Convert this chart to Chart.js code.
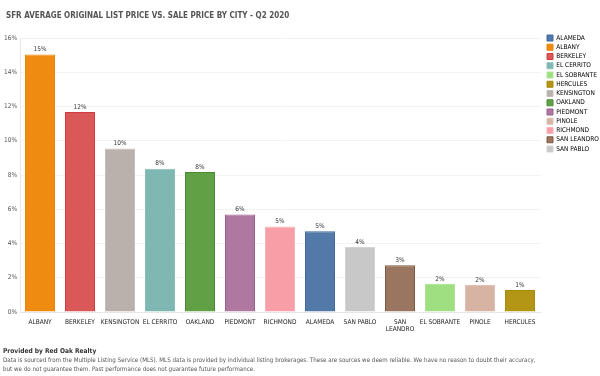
<!DOCTYPE html>
<html><head><meta charset="utf-8">
<script src="https://cdn.jsdelivr.net/npm/chart.js@4/dist/chart.umd.min.js"></script>
<style>html,body{margin:0;padding:0;background:#fff;}#wrap{width:600px;height:376px;position:relative}</style>
</head><body><div id="wrap"><canvas id="c" width="600" height="376"></canvas></div>
<script>
const cities = ['ALBANY','BERKELEY','KENSINGTON','EL CERRITO','OAKLAND','PIEDMONT','RICHMOND','ALAMEDA','SAN PABLO','SAN LEANDRO','EL SOBRANTE','PINOLE','HERCULES'];
const values = [15.03,11.68,9.55,8.37,8.18,5.70,5.00,4.71,3.80,2.73,1.64,1.58,1.28];
const valueLabels = ['15%','12%','10%','8%','8%','6%','5%','5%','4%','3%','2%','2%','1%'];
const yMin = 0, yMax = 16, yStep = 2;
const legendCities = ['ALAMEDA','ALBANY','BERKELEY','EL CERRITO','EL SOBRANTE','HERCULES','KENSINGTON','OAKLAND','PIEDMONT','PINOLE','RICHMOND','SAN LEANDRO','SAN PABLO'];
const titleText = 'SFR AVERAGE ORIGINAL LIST PRICE VS. SALE PRICE BY CITY - Q2 2020';
const footerBold = 'Provided by Red Oak Realty';
const footerLines = ['Data is sourced from the Multiple Listing Service (MLS). MLS data is provided by individual listing brokerages. These are sources we deem reliable. We have no reason to doubt their accuracy,',
 'but we do not guarantee them. Past performance does not guarantee future performance.'];

const fillColors = {
 'ALBANY':'#EE8B10','BERKELEY':'#DA5858','KENSINGTON':'#BAB0AC','EL CERRITO':'#7FB7B2','OAKLAND':'#62A046',
 'PIEDMONT':'#AE78A0','RICHMOND':'#F89EA6','ALAMEDA':'#5279A8','SAN PABLO':'#C8C8C8','SAN LEANDRO':'#9A7560',
 'EL SOBRANTE':'#A0DE82','PINOLE':'#D6B3A3','HERCULES':'#B39616'};
const borderColors = {
 'ALBANY':'#E8850A','BERKELEY':'#D43C40','KENSINGTON':'#C6BEBA','EL CERRITO':'#89C0BB','OAKLAND':'#4A8C35',
 'PIEDMONT':'#9C5F8C','RICHMOND':'#F7B0B7','ALAMEDA':'#3F68A0','SAN PABLO':'#D3D3D3','SAN LEANDRO':'#7F5B44',
 'EL SOBRANTE':'#B0E596','PINOLE':'#E0C3B6','HERCULES':'#A88B0E'};

const FONT = '"Liberation Sans Narrow","DejaVu Sans Condensed","Roboto",sans-serif';

const tweaks = {
 id:'tweaks',
 afterInit(chart){
   const lg = chart.legend; const orig = lg.fit;
   lg.fit = function(){ orig.call(this); this.width = 60; };
 },
 afterLayout(chart){
   const lg = chart.legend; const h = lg.height;
   lg.left = chart.chartArea.right + 4.25; lg.right = lg.left + 60;
   lg.top = 32; lg.bottom = 32 + h;
   if (chart.titleBlock) { chart.titleBlock.left = 6; }
 },
 afterDatasetsDraw(chart){
   const ctx = chart.ctx; const meta = chart.getDatasetMeta(0);
   ctx.save(); ctx.font = '6.5px ' + FONT; ctx.fillStyle = '#333'; ctx.textAlign='center'; ctx.textBaseline='middle';
   meta.data.forEach((b,i)=>ctx.fillText(valueLabels[i], b.x, b.y-5));
   ctx.restore();
 },
 afterDraw(chart){
   const ctx = chart.ctx; ctx.save(); ctx.textAlign='left'; ctx.textBaseline='middle';
   ctx.font = 'bold 6.6px ' + FONT; ctx.fillStyle = '#333'; ctx.fillText(footerBold, 3, 351);
   ctx.font = '6.2px ' + FONT; ctx.fillStyle = '#555';
   footerLines.forEach((t,i)=>ctx.fillText(t, 3, 360 + i*9));
   ctx.restore();
 }
};

new Chart(document.getElementById('c'), {
 type:'bar',
 data:{
   labels: cities.map(c => c === 'SAN LEANDRO' ? ['SAN','LEANDRO'] : c),
   datasets:[{ data: values, backgroundColor: cities.map(c=>fillColors[c]), borderColor: cities.map(c=>borderColors[c]),
     borderWidth:1, barPercentage:0.75, categoryPercentage:1 }]
 },
 options:{
   responsive:false, animation:false, devicePixelRatio:1,
   layout:{padding:{left:0,top:0,right:0,bottom:0}},
   plugins:{
     title:{display:true, text:titleText, align:'start', color:'#555', font:{family:FONT,size:8,weight:'bold'}, padding:{top:11,bottom:17.4}},
     legend:{position:'right', align:'start', labels:{boxWidth:6, boxHeight:6, padding:2.75, color:'#333', font:{family:FONT,size:6.5},
       generateLabels: () => legendCities.map(c=>({text:c, fillStyle:fillColors[c], strokeStyle:borderColors[c], lineWidth:1, hidden:false}))}},
     tooltip:{enabled:false}
   },
   scales:{
     x:{grid:{display:false, drawTicks:false}, border:{color:'#e6e6e6'},
        ticks:{font:{family:FONT,size:6.5}, color:'#222', padding:6, autoSkip:false, maxRotation:0, minRotation:0},
        afterFit: s => { s.height = 64; }},
     y:{min:yMin, max:yMax, grid:{color:'#f2f2f2', drawTicks:false}, border:{color:'#e8e8e8'},
        ticks:{stepSize:yStep, callback:v=>v+'%', font:{family:FONT,size:6.5}, color:'#555', padding:3},
        afterFit: s => { s.width = 20; }}
   }
 },
 plugins:[tweaks]
});
</script></body></html>
